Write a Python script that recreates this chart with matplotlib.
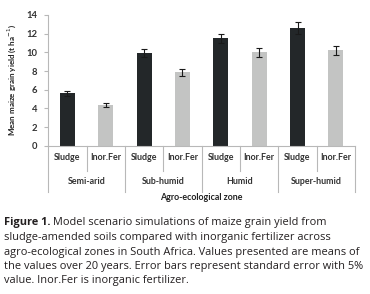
import matplotlib
matplotlib.use("Agg")
import matplotlib.pyplot as plt
from matplotlib.transforms import blended_transform_factory

plt.rcParams["font.family"] = ["Lato", "DejaVu Sans"]

# ── Data ──────────────────────────────────────────────────────────────────────

ZONES      = ["Semi-arid", "Sub-humid", "Humid", "Super-humid"]
TREATMENTS = ["Sludge", "Inor.Fer"]

# Mean maize grain yield (t/ha) and standard error per zone
SLUDGE     = [5.6, 9.9, 11.5, 12.6]
SLUDGE_ERR = [0.25, 0.45, 0.5, 0.6]
INORFER     = [4.35, 7.85, 10.0, 10.2]
INORFER_ERR = [0.2, 0.4, 0.45, 0.5]

CAPTION_HEAD = "Figure 1."
CAPTION_FIRST = " Model scenario simulations of maize grain yield from"
CAPTION_REST = [
    "sludge-amended soils compared with inorganic fertilizer across",
    "agro-ecological zones in South Africa. Values presented are means of",
    "the values over 20 years. Error bars represent standard error with 5%",
    "value. Inor.Fer is inorganic fertilizer.",
]

COLORS = ["#232729", "#c3c4c3"]
GRID   = "#b8b8b8"

# ── Plot ──────────────────────────────────────────────────────────────────────

fig = plt.figure(figsize=(3.70, 2.94), dpi=100)
ax = fig.add_axes([0.1305, 0.5044, 0.829, 0.4446])

n = len(ZONES)
xs_sludge = [2 * i for i in range(n)]
xs_inor   = [2 * i + 1 for i in range(n)]

err_kw = dict(ecolor="#1a1a1a", elinewidth=0.8, capsize=2, capthick=0.8)
ax.bar(xs_sludge, SLUDGE, width=0.39, color=COLORS[0], yerr=SLUDGE_ERR,
       error_kw=err_kw)
ax.bar(xs_inor, INORFER, width=0.39, color=COLORS[1], yerr=INORFER_ERR,
       error_kw=err_kw)

ax.set_xlim(-0.5, 2 * n - 0.5)
ax.set_ylim(0, 14)
ax.set_yticks(range(0, 15, 2))
ax.set_xticks([])

for side in ["top", "right"]:
    ax.spines[side].set_visible(False)
for side in ["left", "bottom"]:
    ax.spines[side].set_color(GRID)
    ax.spines[side].set_linewidth(0.8)

ax.tick_params(axis="y", length=3, width=0.8, color=GRID, pad=5,
               labelsize=6.8, labelcolor="#333333")
for lbl in ax.get_yticklabels():
    lbl.set_fontweight("bold")

ax.set_ylabel("Mean maize grain yield (t ha$^{-1}$)", fontsize=5.8,
              fontweight="bold", color="#222222", labelpad=6)

# multi-level category axis below the plot
trans = blended_transform_factory(ax.transData, fig.transFigure)
y_row1, y_row2, y_title = 1 - 158 / 294, 1 - 181 / 294, 1 - 197 / 294
y_inner, y_outer = 1 - 171 / 294, 1 - 192 / 294

for i in range(2 * n + 1):
    y_end = y_outer if i % 2 == 0 else y_inner
    ax.plot([i - 0.5, i - 0.5], [0.5044, y_end], transform=trans,
            color=GRID, lw=0.8, clip_on=False)

for i in range(n):
    for j, name in enumerate(TREATMENTS):
        ax.text(2 * i + j, y_row1, name, transform=trans, ha="center",
                va="center", fontsize=6.4, fontweight="bold", color="#333333")
    ax.text(2 * i + 0.5, y_row2, ZONES[i], transform=trans, ha="center",
            va="center", fontsize=6.4, fontweight="bold", color="#333333")

fig.text(0.545, y_title, "Agro-ecological zone", ha="center", va="center",
         fontsize=6.4, fontweight="bold", color="#222222")

# caption
cap_font = ["Open Sans", "DejaVu Sans"]
cap_size = 7.9
first = fig.text(0.010, 1 - 223 / 294, CAPTION_HEAD, ha="left", va="center",
                 fontsize=cap_size, fontweight="bold", family=cap_font,
                 color="#231f20")
ax.annotate(CAPTION_FIRST, xy=(1, 0.5), xycoords=first, ha="left",
            va="center", fontsize=cap_size, family=cap_font, color="#231f20",
            annotation_clip=False)
for k, line in enumerate(CAPTION_REST):
    fig.text(0.010, 1 - (237.5 + 14.5 * k) / 294, line, ha="left",
             va="center", fontsize=cap_size, family=cap_font, color="#231f20")

fig.savefig("out.png", dpi=100)
